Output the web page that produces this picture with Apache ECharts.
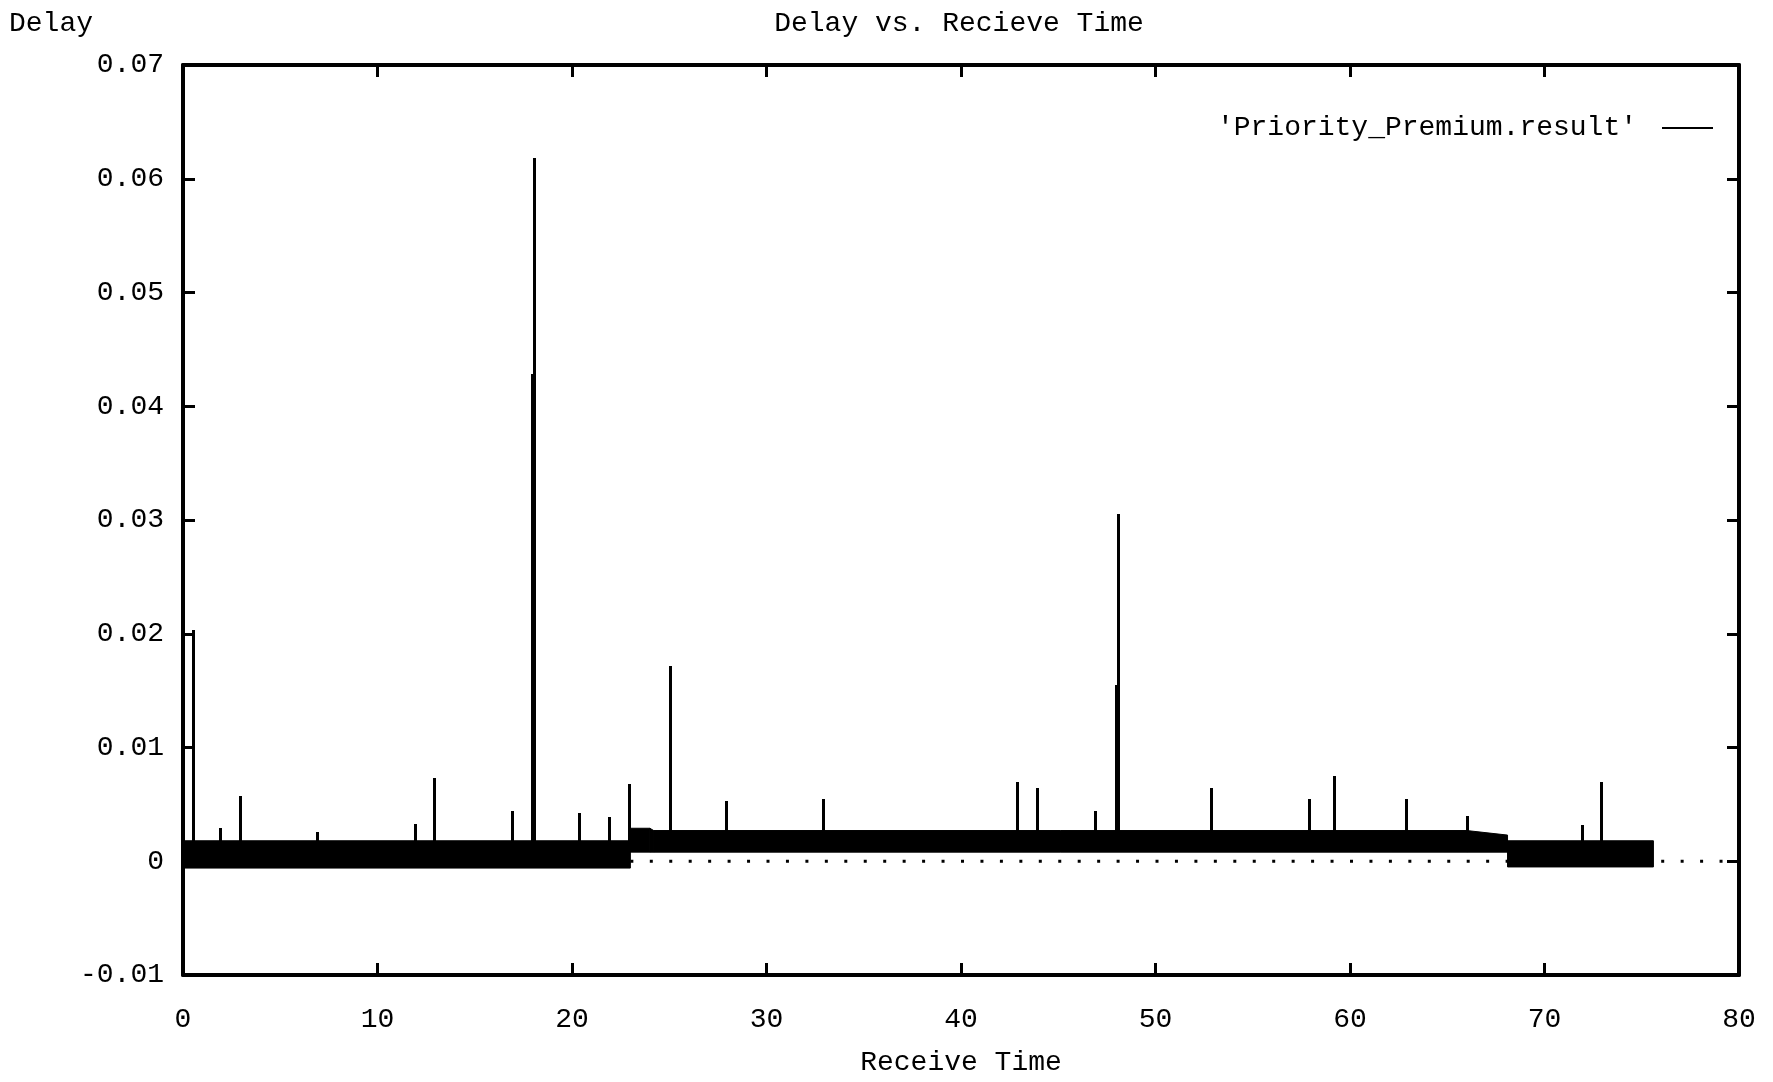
<!DOCTYPE html>
<html><head><meta charset="utf-8">
<script src="https://cdn.jsdelivr.net/npm/echarts@6/dist/echarts.min.js"></script>
<style>html,body{margin:0;padding:0;background:#fff}#c{width:1773px;height:1082px}</style>
</head><body><div id="c"></div>
<script>
// ---- data ----
const seriesName = "'Priority_Premium.result'";
const chartTitle = 'Delay vs. Recieve Time';
const xAxisTitle = 'Receive Time';
const yAxisTitle = 'Delay';

// dense noise band (envelope of the packet delays): x, upper edge, lower edge
const bandX      = [0,       23.0,    23.0,   24.0,   24.2,   66.0,   68.1,   68.1,    75.6];
const bandTop    = [0.0018,  0.0018,  0.0029, 0.0029, 0.0027, 0.0027, 0.0023, 0.0018,  0.0018];
const bandBottom = [-0.0006, -0.0006, 0.0008, 0.0008, 0.0008, 0.0008, 0.0008, -0.0005, -0.0005];

// isolated delay spikes: receive time and peak delay
const spikeX    = [0.5, 1.9, 2.93, 6.87, 11.93, 12.92, 16.93, 17.95, 18.05, 20.36, 21.92, 22.93, 25.06, 27.9, 32.9, 42.9, 43.9, 46.9, 47.95, 48.05, 52.87, 57.9, 59.18, 62.88, 66.0, 71.91, 72.9];
const spikePeak = [0.0203, 0.0029, 0.0057, 0.0026, 0.0033, 0.0073, 0.0044, 0.0428, 0.0618, 0.0042, 0.0039, 0.0068, 0.0172, 0.0053, 0.0055, 0.0070, 0.0064, 0.0044, 0.0155, 0.0305, 0.0064, 0.0055, 0.0075, 0.0055, 0.0040, 0.0032, 0.0070];
const spikeBase = 0.001;

// axis ranges / ticks
const xMin = 0, xMax = 80, xStep = 10;
const yMin = -0.01, yMax = 0.07, yStep = 0.01;

// ---- build ----
const FONT = 'Liberation Mono';
const bandData = [];
for (let i = 0; i < bandX.length - 1; i++) {
  if (bandX[i + 1] > bandX[i]) {
    bandData.push([bandX[i], bandX[i + 1], bandTop[i], bandTop[i + 1], bandBottom[i], bandBottom[i + 1]]);
  }
}
const spikeData = spikeX.map((x, i) => [x, spikePeak[i]]);

const txt = {fontFamily: FONT, fontSize: 28, color: '#000', fontWeight: 'normal'};
const axisLine = {show: true, onZero: false, lineStyle: {color: '#000', width: 4}};
const axisTick = {show: true, inside: true, length: 12, lineStyle: {color: '#000', width: 3}};

const chart = echarts.init(document.getElementById('c'), null, {renderer: 'canvas'});
chart.setOption({
  animation: false,
  backgroundColor: '#fff',
  color: ['#000'],
  title: [
    {text: chartTitle, left: 959, top: 10, padding: 0, textAlign: 'center', textStyle: txt},
    {text: yAxisTitle, left: 9, top: 10, padding: 0, textStyle: txt}
  ],
  legend: {
    data: [{name: seriesName, icon: 'rect'}],
    right: 60, top: 114, padding: 0, align: 'right',
    itemWidth: 51, itemHeight: 2, selectedMode: false,
    textStyle: Object.assign({}, txt, {padding: [0, 20, 0, 0]})
  },
  grid: {left: 183, right: 34, top: 65, bottom: 99, containLabel: false},
  xAxis: [
    {type: 'value', min: xMin, max: xMax, interval: xStep, position: 'bottom',
     axisLine, axisTick, splitLine: {show: false},
     axisLabel: Object.assign({}, txt, {margin: 31}),
     name: xAxisTitle, nameLocation: 'middle', nameGap: 74, nameTextStyle: txt},
    {type: 'value', min: xMin, max: xMax, interval: xStep, position: 'top',
     axisLine, axisTick, splitLine: {show: false}, axisLabel: {show: false}}
  ],
  yAxis: [
    {type: 'value', min: yMin, max: yMax, interval: yStep, position: 'left',
     axisLine, axisTick, splitLine: {show: false},
     axisLabel: Object.assign({}, txt, {margin: 19,
       formatter: v => Math.abs(v) < 1e-9 ? '0' : v.toFixed(2)})},
    {type: 'value', min: yMin, max: yMax, interval: yStep, position: 'right',
     axisLine, axisTick, splitLine: {show: false}, axisLabel: {show: false}}
  ],
  series: [
    {
      name: 'zero axis', type: 'line', xAxisIndex: 0, yAxisIndex: 0, z: 1,
      data: [[xMin, 0], [xMax, 0]], showSymbol: false, silent: true,
      lineStyle: {color: '#000', width: 3, type: [3, 16.45]}
    },
    {
      name: seriesName, type: 'custom', xAxisIndex: 0, yAxisIndex: 0, z: 2,
      data: bandData, encode: {x: [0, 1], y: [2, 3, 4, 5]},
      itemStyle: {color: '#000'},
      renderItem: (params, api) => {
        const x0 = api.value(0), x1 = api.value(1);
        const pts = [
          api.coord([x0, api.value(2)]), api.coord([x1, api.value(3)]),
          api.coord([x1, api.value(5)]), api.coord([x0, api.value(4)])
        ];
        return {type: 'polygon', shape: {points: pts}, style: {fill: '#000', stroke: '#000', lineWidth: 1}};
      }
    },
    {
      name: seriesName, type: 'custom', xAxisIndex: 0, yAxisIndex: 0, z: 3,
      data: spikeData, encode: {x: 0, y: 1},
      itemStyle: {color: '#000'},
      renderItem: (params, api) => {
        const a = api.coord([api.value(0), spikeBase]);
        const b = api.coord([api.value(0), api.value(1)]);
        const x = Math.round(a[0]) + 0.5;
        return {type: 'line', shape: {x1: x, y1: a[1], x2: x, y2: Math.round(b[1])}, style: {stroke: '#000', lineWidth: 3}};
      }
    }
  ]
});
</script></body></html>
